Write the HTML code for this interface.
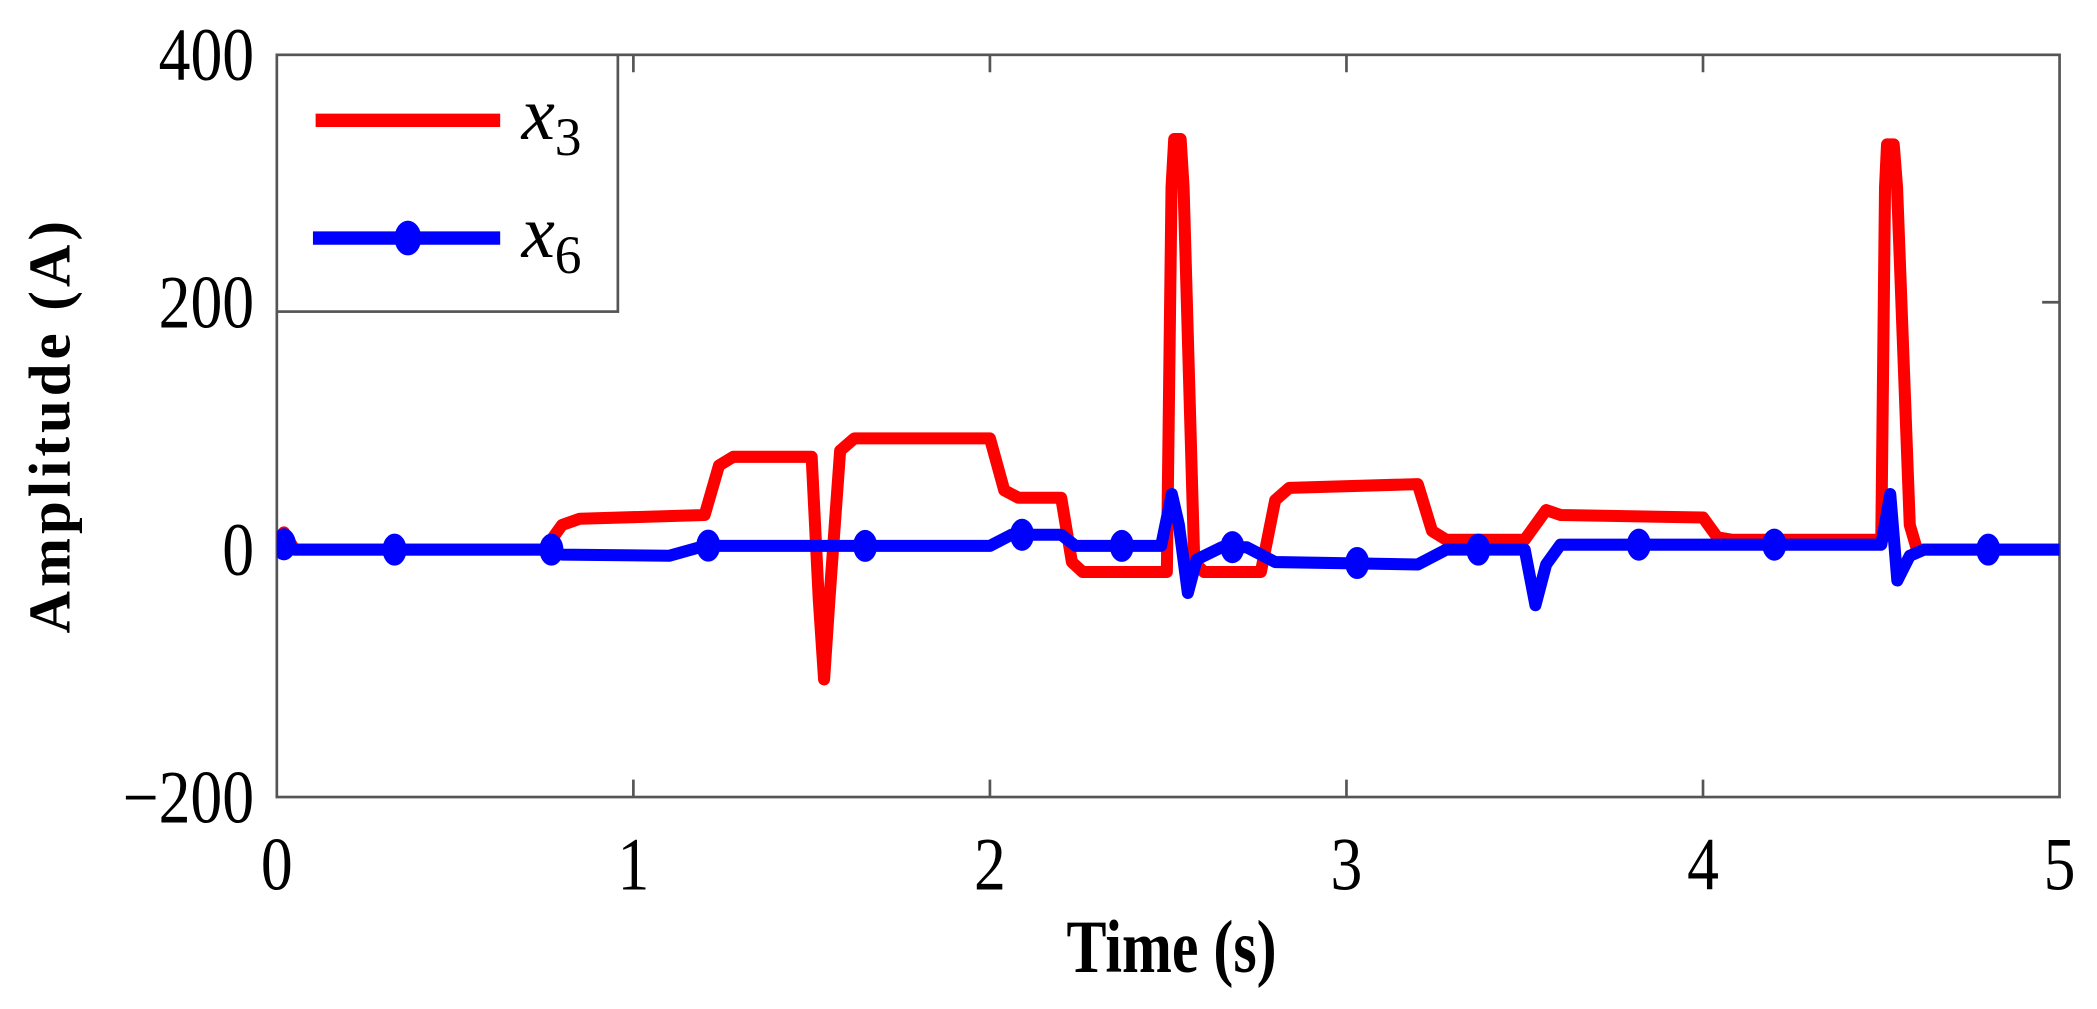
<!DOCTYPE html>
<html><head><style>html,body{margin:0;padding:0;background:#fff;}svg{display:block;}</style></head>
<body>
<svg width="2097" height="1009" viewBox="0 0 1568 754.5" preserveAspectRatio="none" xmlns="http://www.w3.org/2000/svg">
<rect x="0" y="0" width="1568" height="754.5" fill="#fff"/>
<g stroke="#555" stroke-width="2" fill="none">
<rect x="207" y="41" width="1333" height="555"/>
<path d="M473.6,596v-13M740.2,596v-13M1006.8,596v-13M1273.4,596v-13M473.6,41v13M740.2,41v13M1006.8,41v13M1273.4,41v13M207,226h13M207,411h13M1540,226h-13M1540,411h-13"/>
</g>
<g font-family="Liberation Serif, serif" font-size="56" fill="#000">
<text transform="translate(190,60) scale(0.85,1)" text-anchor="end">400</text>
<text transform="translate(190,245) scale(0.85,1)" text-anchor="end">200</text>
<text transform="translate(190,430) scale(0.85,1)" text-anchor="end">0</text>
<text transform="translate(190,615) scale(0.85,1)" text-anchor="end">−200</text>
<text transform="translate(207,665) scale(0.85,1)" text-anchor="middle">0</text>
<text transform="translate(473.6,665) scale(0.85,1)" text-anchor="middle">1</text>
<text transform="translate(740.2,665) scale(0.85,1)" text-anchor="middle">2</text>
<text transform="translate(1006.8,665) scale(0.85,1)" text-anchor="middle">3</text>
<text transform="translate(1273.4,665) scale(0.85,1)" text-anchor="middle">4</text>
<text transform="translate(1540,665) scale(0.85,1)" text-anchor="middle">5</text>
</g>
<text transform="translate(876,727) scale(0.8,1)" text-anchor="middle" font-family="Liberation Serif, serif" font-weight="bold" font-size="56">Time (s)</text>
<text transform="translate(52,318) rotate(-90)" text-anchor="middle" font-family="Liberation Serif, serif" font-weight="bold" font-size="44" letter-spacing="3">Amplitude (A)</text>
<defs><clipPath id="c"><rect x="207" y="41" width="1333" height="555"/></clipPath></defs>
<g clip-path="url(#c)" fill="none" stroke-width="9" stroke-linejoin="round">
<polyline stroke="#f00" points="207,403.6 212.3,398.1 220.3,411 407,411 420.3,392.5 433.6,387.9 526.9,385.1 537.6,348.1 548.2,341.6 606.9,341.6 612.2,448 616.2,508.1 620.2,448 628.2,337 638.9,327.8 740.2,327.8 750.9,366.6 761.5,372.2 793.5,372.2 801.5,420.3 809.5,427.7 872.5,427.7 876,140 878,104 882.8,104 885,140 893,420.3 900.2,427.7 942.8,427.7 953.5,374 964.1,364.8 1060.1,362 1070.8,397.1 1081.4,403.6 1140.1,403.6 1156.1,381.4 1166.8,385.1 1273.4,387 1284.1,401.8 1294.7,403.6 1406.7,403.6 1409.5,140 1411,108 1416,108 1418.5,140 1428,392.5 1433.4,411 1540,411"/>
<polyline stroke="#00f" points="207,406.4 220.3,411 412.3,411 420.3,414.7 500.3,415.6 526.9,408.2 740.2,408.2 756.2,399.9 793.5,399.9 804.2,408.2 868.2,408.2 876.2,369.4 881.5,392.5 888.2,443.4 894.8,418.4 913.5,409.2 932.2,409.2 953.5,420.3 1060.1,422.1 1081.4,411 1140.1,411 1148.1,452.6 1156.1,422.1 1166.8,407.3 1406.7,407.3 1413.4,369.4 1418.7,434.1 1428,415.6 1438.7,411 1540,411"/>
<g fill="#00f" stroke="none">
<ellipse cx="212.3" cy="407" rx="9" ry="12"/>
<ellipse cx="295" cy="411" rx="9" ry="12"/>
<ellipse cx="412.3" cy="411" rx="9" ry="12"/>
<ellipse cx="529.6" cy="408" rx="9" ry="12"/>
<ellipse cx="646.9" cy="408.2" rx="9" ry="12"/>
<ellipse cx="764.2" cy="399.9" rx="9" ry="12"/>
<ellipse cx="838.8" cy="408.2" rx="9" ry="12"/>
<ellipse cx="921.5" cy="409.2" rx="9" ry="12"/>
<ellipse cx="1014.8" cy="421" rx="9" ry="12"/>
<ellipse cx="1105.4" cy="411" rx="9" ry="12"/>
<ellipse cx="1225.4" cy="407.3" rx="9" ry="12"/>
<ellipse cx="1326.7" cy="407.3" rx="9" ry="12"/>
<ellipse cx="1486.7" cy="411" rx="9" ry="12"/>
</g>
</g>
<rect x="207" y="41" width="255" height="192" fill="#fff" stroke="#555" stroke-width="2"/>
<line x1="236" y1="90" x2="374" y2="90" stroke="#f00" stroke-width="10"/>
<line x1="234" y1="178" x2="374" y2="178" stroke="#00f" stroke-width="10"/>
<ellipse cx="305" cy="178" rx="10" ry="13" fill="#00f"/>
<g font-family="Liberation Serif, serif" font-style="italic" font-size="56">
<text x="390" y="104">x<tspan font-style="normal" font-size="40" dy="12">3</tspan></text>
<text x="390" y="192">x<tspan font-style="normal" font-size="40" dy="12">6</tspan></text>
</g>
</svg>
</body></html>
